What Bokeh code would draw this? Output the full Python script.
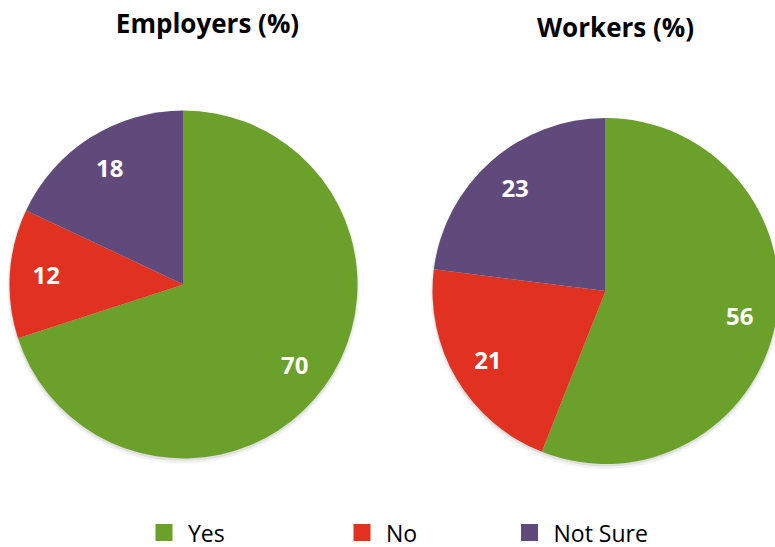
import numpy as np
from bokeh.plotting import figure
from bokeh.models import ColumnDataSource, Range1d
from bokeh.core.properties import value
from bokeh.embed import file_html
from bokeh.resources import INLINE

# ---- data ----
categories = ["Yes", "No", "Not Sure"]
employers = [70, 12, 18]
workers = [56, 21, 23]
titles = ["Employers (%)", "Workers (%)"]
colors = ["#6BA12A", "#E03121", "#604A7B"]

W, H = 775, 547
FONT = "Open Sans"

def sy(y):  # screen y -> data y
    return H - y

p = figure(width=W, height=H, output_backend="svg", toolbar_location=None,
           x_range=Range1d(0, W), y_range=Range1d(0, H),
           x_axis_type=None, y_axis_type=None, min_border=0)
p.grid.visible = False
p.outline_line_color = None
p.background_fill_color = "white"
p.border_fill_color = "white"

# layout: center x, center y (screen), radius, title position
pies = [
    dict(vals=employers, cx=183, cy=284, r=174, tx=207, ty=22),
    dict(vals=workers, cx=605, cy=290.5, r=173, tx=615, ty=26),
]

for spec, title in zip(pies, titles):
    vals = np.array(spec["vals"], dtype=float)
    frac = vals / vals.sum()
    cum = np.concatenate([[0], np.cumsum(frac)])
    start = 90 - cum[:-1] * 360
    end = 90 - cum[1:] * 360
    mid = np.deg2rad((start + end) / 2)
    cx, cy, r = spec["cx"], sy(spec["cy"]), spec["r"]

    # soft shadow
    p.circle(x=[cx], y=[cy - 3], radius=r + 2, fill_color="black", fill_alpha=0.05, line_color=None)
    p.circle(x=[cx], y=[cy - 2], radius=r + 0.5, fill_color="black", fill_alpha=0.08, line_color=None)

    src = ColumnDataSource(dict(start=start, end=end, color=colors,
                                lx=cx + 0.79 * r * np.cos(mid),
                                ly=cy + 0.79 * r * np.sin(mid),
                                label=[str(int(v)) for v in spec["vals"]]))
    p.wedge(x=cx, y=cy, radius=r, start_angle="start", end_angle="end",
            start_angle_units="deg", end_angle_units="deg",
            direction="clock", fill_color="color",
            line_color=None, source=src)
    p.text(x="lx", y="ly", text="label", source=src, text_color="white",
           text_font=value(FONT), text_font_style="bold", text_font_size="24px",
           text_align="center", text_baseline="middle")

    p.text(x=[spec["tx"]], y=[sy(spec["ty"])], text=[title], text_color="black",
           text_font=value(FONT), text_font_style="bold", text_font_size="26px",
           text_align="center", text_baseline="middle")

# legend
leg_x = [163.5, 361.5, 529]
leg_y = sy(532)
p.scatter(x=leg_x, y=[leg_y] * 3, marker="square", size=17, fill_color=colors, line_color=None)
p.text(x=[x + 24 for x in leg_x], y=[leg_y] * 3, text=categories, text_color="black",
       text_font=value(FONT), text_font_size="23px", text_align="left", text_baseline="middle")

open("out.html", "w").write(file_html(p, INLINE))
